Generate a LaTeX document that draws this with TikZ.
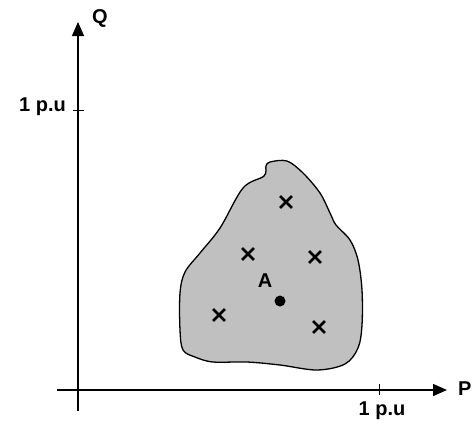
\documentclass[tikz,border=0pt]{standalone}
\usepackage{fontspec}
\setmainfont{Liberation Sans}
\usetikzlibrary{positioning,arrows.meta,shapes.misc,calc}
\definecolor{rgray}{HTML}{C0C0C0}

\begin{document}
\begin{tikzpicture}[x=1pt, y=-1pt,
  axis/.style={line width=1.4pt, -{Triangle[length=14pt, width=12pt]}},
  tick/.style={line width=1pt},
  lbl/.style={font=\bfseries\fontsize{20}{20}\selectfont, inner sep=1pt},
  xmark/.style={cross out, draw, line width=2.8pt, minimum size=9pt, inner sep=0pt},
  region/.style={fill=rgray, draw=black, line width=1.3pt}
]
\useasboundingbox (0,0) rectangle (476,426);

% --- axes ---
\coordinate (xstart) at (57,390);
\coordinate (xend) at (447,390);
\coordinate (ystart) at (78,411);
\coordinate (yend) at (78,22);
\draw[axis] (xstart) -- (xend);
\draw[axis] (ystart) -- (yend);
\node[lbl, anchor=west] (plbl) at (457,389) {P};
\node[lbl, anchor=west] (qlbl) at (91,18) {Q};

% --- unit ticks ---
\coordinate (xtick) at (379,390);
\coordinate (ytick) at (78,110);
\draw[tick] ($(xtick)+(0,-6)$) -- ($(xtick)+(0,5)$);
\draw[tick] ($(ytick)+(-5,0)$) -- ($(ytick)+(6,0)$);
\node[lbl, anchor=north] (xunit) at (382,401) {1 p.u};
\node[lbl, anchor=east] (yunit) at (67,107) {1 p.u};

% --- operating region ---
\draw[region] plot[smooth cycle, tension=0.55] coordinates {
  (270,162) (287,161) (303,173) (320,193) (330,213) (336,225)
  (350,240) (358,260) (362,290) (362,325) (358,348) (345,364)
  (317,370) (280,365) (247,362) (213,362) (195,357) (183,350)
  (180,330) (180,293) (185,272) (200,253) (220,228) (243,188)
  (264,176) (266,166)};

% --- samples and point A ---
\node[xmark] (s1) at (286,202) {};
\node[xmark] (s2) at (248,254) {};
\node[xmark] (s3) at (315,257) {};
\node[xmark] (s4) at (219,315) {};
\node[xmark] (s5) at (319,327) {};
\fill (280,301) circle (5.5pt);
\node[lbl] (alabel) at (265,281) {A};

\end{tikzpicture}
\end{document}
